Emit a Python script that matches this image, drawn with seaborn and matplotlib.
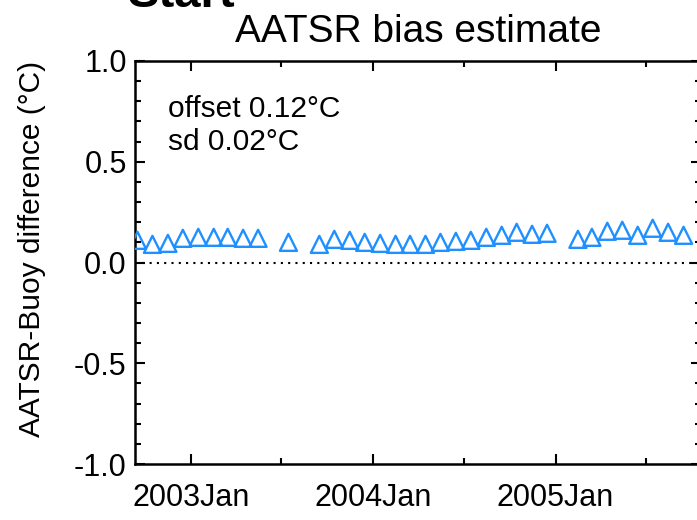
import pandas as pd
import matplotlib
matplotlib.use('Agg')
import matplotlib.pyplot as plt
import matplotlib.dates as mdates
import seaborn as sns

# monthly AATSR - buoy differences (months with no data are left out)
months = ['2002-09', '2002-10', '2002-11', '2002-12',
          '2003-01', '2003-02', '2003-03', '2003-04', '2003-05', '2003-07',
          '2003-09', '2003-10', '2003-11', '2003-12',
          '2004-01', '2004-02', '2004-03', '2004-04', '2004-05', '2004-06',
          '2004-07', '2004-08', '2004-09', '2004-10', '2004-11', '2004-12',
          '2005-02', '2005-03', '2005-04', '2005-05', '2005-06', '2005-07',
          '2005-08', '2005-09']
bias = [0.11, 0.09, 0.095, 0.12,
        0.125, 0.125, 0.125, 0.12, 0.12, 0.10,
        0.09, 0.115, 0.11, 0.10,
        0.095, 0.09, 0.09, 0.09, 0.10, 0.105,
        0.11, 0.125, 0.135, 0.15, 0.14, 0.145,
        0.115, 0.125, 0.155, 0.16, 0.135, 0.17,
        0.15, 0.135]
offset_text = 'offset 0.12°C'
sd_text = 'sd 0.02°C'

df = pd.DataFrame({'date': pd.to_datetime([m + '-15' for m in months]),
                   'bias': bias})

sns.set_style('ticks')
plt.rcParams['font.family'] = ['Liberation Sans', 'DejaVu Sans']
plt.rcParams['text.color'] = 'black'
plt.rcParams['axes.labelcolor'] = 'black'
plt.rcParams['xtick.color'] = 'black'
plt.rcParams['ytick.color'] = 'black'

fig = plt.figure(figsize=(6.97, 5.20), dpi=100)
ax = fig.add_axes([135/697, 56/520, 566/697, 403/520])

blue = '#1e90ff'
sns.scatterplot(data=df, x='date', y='bias', marker='^', s=150,
                color=blue, facecolors='none', edgecolor=blue,
                linewidth=1.7, ax=ax, zorder=3)

ax.axhline(0, color='black', linestyle=(0, (1, 2.5)), linewidth=1.5)

ax.set_ylim(-1.0, 1.0)
ax.set_xlim(pd.Timestamp('2002-09-10'), pd.Timestamp('2005-10-20'))
ax.set_yticks([-1.0, -0.5, 0.0, 0.5, 1.0])
ax.set_yticks([v / 10 for v in range(-10, 11)], minor=True)
ax.yaxis.set_major_formatter(matplotlib.ticker.FormatStrFormatter('%.1f'))
ax.xaxis.set_major_locator(mdates.YearLocator())
ax.xaxis.set_minor_locator(mdates.MonthLocator(bymonth=7))
ax.xaxis.set_major_formatter(mdates.DateFormatter('%Y%b'))

ax.tick_params(which='both', direction='in', top=True, right=True,
               width=1.5, labelsize=22, color='black', labelcolor='black')
ax.tick_params(which='major', length=7)
ax.tick_params(which='minor', length=4.5)
ax.tick_params(axis='x', pad=14)
ax.tick_params(axis='y', pad=6)
for sp in ax.spines.values():
    sp.set_linewidth(1.8)
    sp.set_color('black')

ax.set_xlabel('')
ax.set_ylabel('AATSR-Buoy difference (°C)', fontsize=21.5)
ax.yaxis.set_label_coords(-0.157, 0.533)
ax.set_title('AATSR bias estimate', fontsize=28, pad=14)

ax.text(0.058, 0.881, offset_text, transform=ax.transAxes,
        fontsize=21.5, va='center', ha='left')
ax.text(0.058, 0.799, sd_text, transform=ax.transAxes,
        fontsize=21.5, va='center', ha='left')

# cut-off heading of a neighbouring panel above the chart
fig.text(128/697, 1 - 7/520, 'Start', fontsize=34, fontweight='bold',
         ha='left', va='baseline')

fig.savefig('out.png', dpi=100)
